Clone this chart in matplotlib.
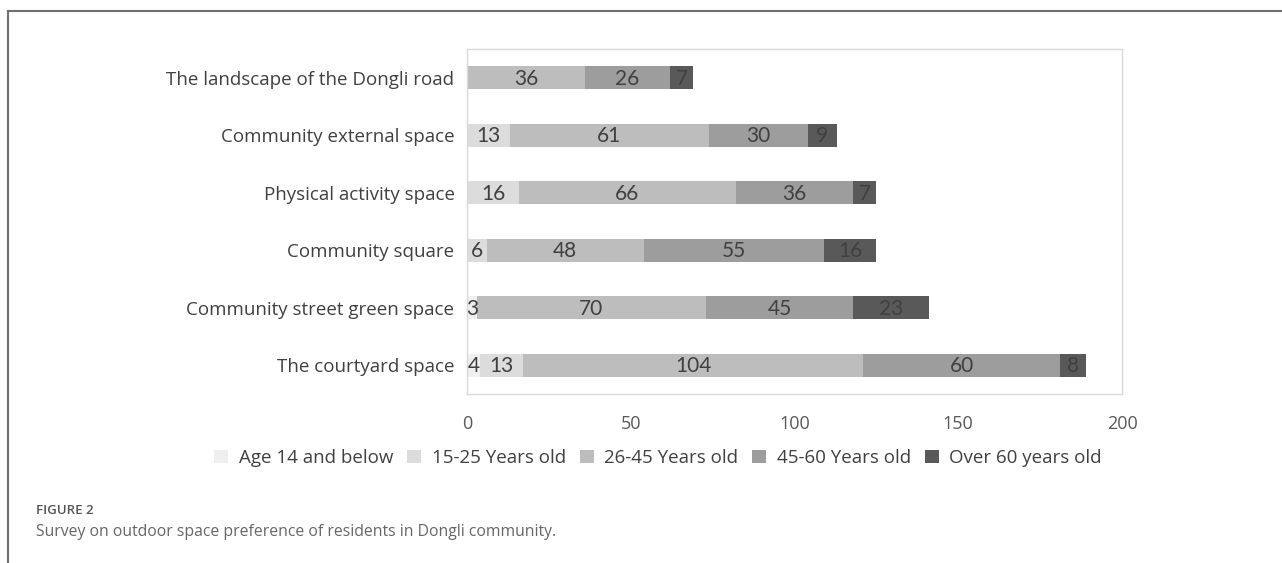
import matplotlib
matplotlib.use("Agg")
import matplotlib.pyplot as plt
import numpy as np

categories = ["The landscape of the Dongli road", "Community external space",
              "Physical activity space", "Community square",
              "Community street green space", "The courtyard space"]
series_names = ["Age 14 and below", "15-25 Years old", "26-45 Years old",
                "45-60 Years old", "Over 60 years old"]
age14 = [0, 0, 0, 0, 3, 4]
age15_25 = [0, 13, 16, 6, 0, 13]
age26_45 = [36, 61, 66, 48, 70, 104]
age45_60 = [26, 30, 36, 55, 45, 60]
over60 = [7, 9, 7, 16, 23, 8]
xticks = [0, 50, 100, 150, 200]

colors = ["#efefef", "#dcdcdc", "#bdbdbd", "#9d9d9d", "#595959"]
series = [age14, age15_25, age26_45, age45_60, over60]

fig = plt.figure(figsize=(12.82, 5.63), dpi=100)
W, H = 1282, 563
ax = fig.add_axes([467 / W, 1 - 394 / H, (1122 - 467) / W, (394 - 49) / H])

y = np.arange(len(categories))
left = np.zeros(len(categories))
for vals, col, name in zip(series, colors, series_names):
    vals = np.array(vals, dtype=float)
    ax.barh(y, vals, left=left, height=0.4, color=col, label=name,
            edgecolor="none")
    for yi, (l, v) in enumerate(zip(left, vals)):
        if v > 0:
            ax.text(l + v / 2, yi + 0.02, f"{int(v)}", ha="center", va="center",
                    fontsize=15, color="#404040", family="Lato")
    left += vals

ax.set_xlim(0, 200)
ax.set_ylim(len(categories) - 0.5, -0.5)
ax.set_yticks(y)
ax.set_yticklabels(categories, family="Open Sans", fontsize=13.5, color="#404040")
ax.set_xticks(xticks)
ax.set_xticklabels([str(t) for t in xticks], family="Open Sans", fontsize=13,
                   color="#595959")
ax.tick_params(axis="both", length=0)
ax.tick_params(axis="x", pad=15)
ax.tick_params(axis="y", pad=9)
for s in ax.spines.values():
    s.set_color("#d9d9d9")
    s.set_linewidth(1.0)

leg = fig.legend(loc="center", bbox_to_anchor=(658 / W, 1 - 458 / H), ncol=5,
                 frameon=False, handlelength=0.75, handleheight=0.75,
                 handletextpad=0.55, columnspacing=0.75,
                 prop={"family": "Open Sans", "size": 13.5})
for t in leg.get_texts():
    t.set_color("#404040")

# figure frame lines
fig.add_artist(plt.Line2D([8 / W, 1], [1 - 11 / H, 1 - 11 / H], color="#707070",
                          lw=1.5, transform=fig.transFigure))
fig.add_artist(plt.Line2D([8 / W, 8 / W], [1 - 11 / H, 0], color="#707070",
                          lw=1.5, transform=fig.transFigure))

fig.text(36 / W, 1 - 511 / H, "FIGURE 2", fontsize=9.5, color="#555555",
         family="Open Sans", weight="semibold", va="center")
fig.text(36 / W, 1 - 532 / H,
         "Survey on outdoor space preference of residents in Dongli community.",
         fontsize=11.3, color="#666666", family="Open Sans", va="center")

fig.savefig("out.png", dpi=100)
